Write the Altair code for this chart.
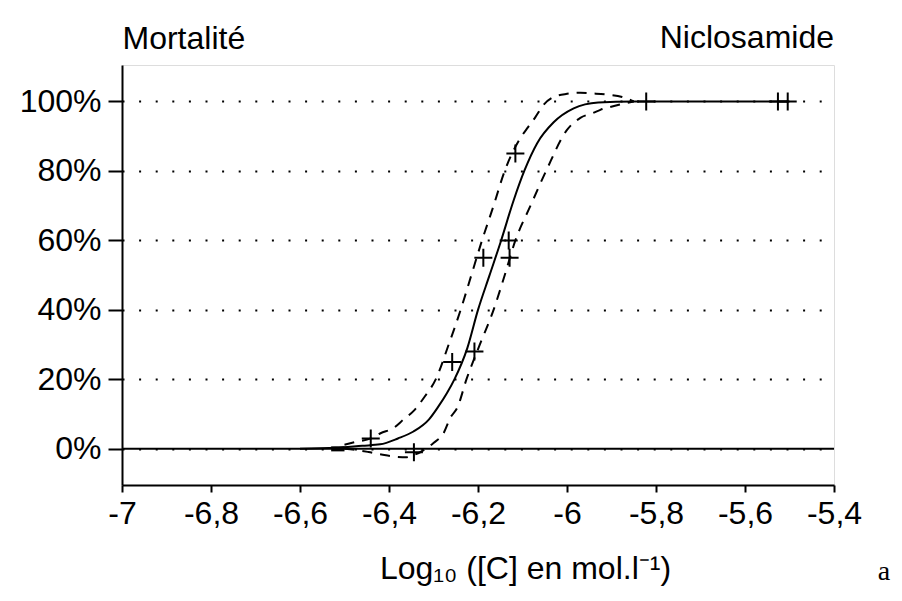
import altair as alt
import pandas as pd

# ---- data ----
# fitted curve (solid)
solid_x = [-6.60, -6.52, -6.46, -6.42, -6.38, -6.345, -6.31, -6.29, -6.27, -6.253, -6.224,
           -6.200, -6.174, -6.148, -6.12, -6.096, -6.067, -6.03, -5.985, -5.93, -5.85, -5.50]
solid_y = [0, 0.3, 0.9, 1.3, 3, 5, 8.5, 12, 16, 20, 29,
           40, 50, 60, 71.5, 80, 88, 94, 98, 99.7, 100, 100]

# upper confidence band (dashed, left)
upper_x = [-6.50, -6.475, -6.441, -6.419, -6.39, -6.367, -6.344, -6.32, -6.295, -6.266, -6.239,
           -6.215, -6.191, -6.165, -6.14, -6.107, -6.087, -6.071, -6.053, -6.03, -6.0, -5.97,
           -5.94, -5.91, -5.876, -5.85]
upper_y = [1.2, 2, 3, 4.5, 6, 8.5, 11, 15, 20, 30, 40,
           50, 60, 70, 80, 89, 92.7, 95.5, 99, 101.3, 102.2, 102.5,
           102.3, 102, 101.3, 100]

# lower confidence band (dashed, right)
lower_x = [-6.50, -6.475, -6.446, -6.414, -6.381, -6.36, -6.347, -6.329, -6.30, -6.277, -6.262,
           -6.246, -6.226, -6.196, -6.165, -6.14, -6.116, -6.082, -6.047, -6.0, -5.97,
           -5.941, -5.925, -5.903, -5.875, -5.85]
lower_y = [0, -0.3, -0.9, -1.7, -2.3, -2.4, -1.9, -0.9, 1.7, 4.6, 9,
           12, 20, 30, 40, 50, 60, 70, 80, 91.8, 95.3,
           96.7, 97.6, 98.4, 99.3, 100]

# observed mortalities (crosses)
obs_x = [-6.441, -6.344, -6.258, -6.208, -6.188, -6.131, -6.129, -6.116, -5.822, -5.526, -5.504]
obs_y = [3, -1, 25, 28, 55, 60, 55, 85, 100, 100, 100]

# short thick mark on the 0 % line
thick_x = [-6.53]
thick_x2 = [-6.50]
thick_y = [0]

x_ticks = [-7, -6.8, -6.6, -6.4, -6.2, -6, -5.8, -5.6, -5.4]
y_ticks = [0, 20, 40, 60, 80, 100]

FONT = "Liberation Sans"
FS = 32

solid_df = pd.DataFrame({"x": solid_x, "y": solid_y})
upper_df = pd.DataFrame({"x": upper_x, "y": upper_y})
lower_df = pd.DataFrame({"x": lower_x, "y": lower_y})
obs_df = pd.DataFrame({"x": obs_x, "y": obs_y})
thick_df = pd.DataFrame({"x": thick_x, "x2": thick_x2, "y": thick_y})
zero_df = pd.DataFrame({"x": [x_ticks[0]], "x2": [x_ticks[-1]], "y": [0]})

xscale = alt.Scale(domain=[-7, -5.4], nice=False, zero=False)
yscale = alt.Scale(domain=[-10.4, 110.5], nice=False, zero=False)

xax = alt.Axis(
    values=x_ticks,
    labelExpr="replace(toString(datum.value), '.', ',')",
    title="Log₁₀ ([C] en mol.l⁻¹)",
    titleX=403, titleY=93, titleAlign="center", titleBaseline="alphabetic",
    titleFont=FONT, titleFontSize=FS, titleFontWeight="normal", titleColor="black",
    labelFont=FONT, labelFontSize=FS, labelColor="black", labelPadding=6,
    labelFlush=False, labelOverlap=False,
    tickSize=7, tickWidth=2, tickColor="black",
    domainColor="black", domainWidth=2, grid=False,
)
yax = alt.Axis(
    values=y_ticks,
    labelExpr="datum.value + '%'",
    title="Mortalité",
    titleAngle=0, titleAlign="left", titleBaseline="alphabetic", titleX=0, titleY=-17,
    titleFont=FONT, titleFontSize=FS, titleFontWeight="normal", titleColor="black",
    labelFont=FONT, labelFontSize=FS, labelColor="black", labelPadding=7,
    labelFlush=False, labelOverlap=False,
    tickSize=14, tickWidth=2, tickColor="black",
    domainColor="black", domainWidth=2,
    grid=True, gridColor="black", gridWidth=2, gridDash=[2, 14.6], gridOpacity=1,
)

base_axes = alt.Chart(obs_df).mark_point(opacity=0).encode(
    x=alt.X("x:Q", scale=xscale, axis=xax),
    y=alt.Y("y:Q", scale=yscale, axis=yax),
)

zero_line = alt.Chart(zero_df).mark_rule(color="black", strokeWidth=2).encode(
    x="x:Q", x2="x2:Q", y="y:Q")

thick = alt.Chart(thick_df).mark_rule(color="black", strokeWidth=5).encode(
    x="x:Q", x2="x2:Q", y="y:Q")

solid = alt.Chart(solid_df).mark_line(color="black", strokeWidth=2, interpolate="monotone").encode(
    x="x:Q", y="y:Q", order="x:Q")

upper = alt.Chart(upper_df).mark_line(color="black", strokeWidth=2, strokeDash=[10, 8],
                                      interpolate="monotone").encode(
    x="x:Q", y="y:Q", order="x:Q")

lower = alt.Chart(lower_df).mark_line(color="black", strokeWidth=2, strokeDash=[10, 8],
                                      interpolate="monotone").encode(
    x="x:Q", y="y:Q", order="x:Q")

crosses = alt.Chart(obs_df).mark_point(
    shape="M-1,0H1M0,-1V1", size=324, filled=False, color="black", strokeWidth=2, opacity=1
).encode(x="x:Q", y="y:Q")

letter = alt.Chart(pd.DataFrame({"t": ["a"]})).mark_text(
    font="Liberation Serif", fontSize=28, color="black", align="center", baseline="alphabetic"
).encode(x=alt.value(762), y=alt.value(515), text="t:N")

name = alt.Chart(pd.DataFrame({"t": ["Niclosamide"]})).mark_text(
    font=FONT, fontSize=FS, color="black", align="right", baseline="alphabetic"
).encode(x=alt.value(712), y=alt.value(-17), text="t:N")

chart = alt.layer(base_axes, zero_line, thick, solid, upper, lower, crosses, letter, name).properties(
    width=712, height=420,
    autosize=alt.AutoSizeParams(type="none"),
    padding={"left": 114, "top": 57, "right": 58, "bottom": 104},
).configure_view(stroke="black", strokeWidth=2).configure(background="white")

chart.save("out.html", embed_options={"renderer": "svg", "actions": False})
